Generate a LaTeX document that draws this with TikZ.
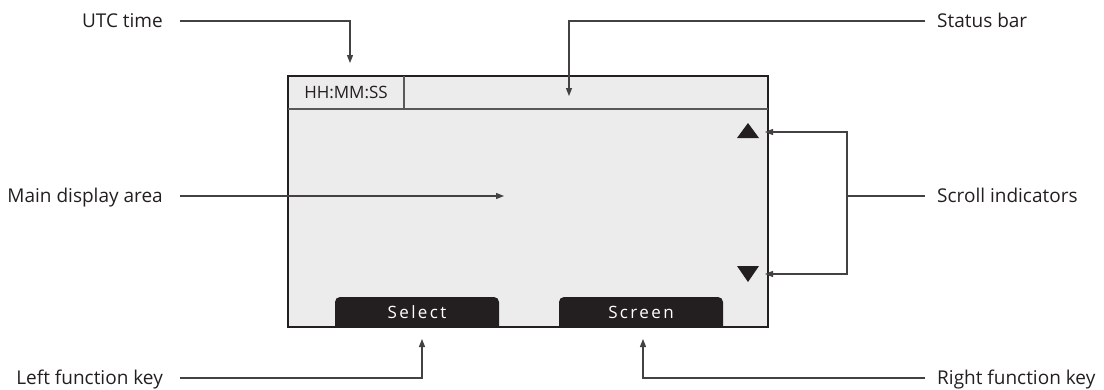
\documentclass[tikz,border=0pt]{standalone}
\usepackage{fontspec}
\setmainfont{Open Sans}
\usetikzlibrary{arrows.meta}

\definecolor{ink}{HTML}{231F20}
\definecolor{lcd}{HTML}{ECECEC}

\tikzset{
  callout/.style={font=\fontsize{19}{22}\selectfont, text=ink, inner sep=0pt,
    text height=13.5pt, text depth=0pt},
  lead/.style={draw=ink!85, line width=1.2pt, -{Triangle[length=8pt,width=6pt]}},
  keytext/.style={font=\fontsize{17}{20}\selectfont\addfontfeature{LetterSpace=14},
    text=white, inner sep=0pt},
}

\begin{document}
\begin{tikzpicture}[x=1pt,y=-1pt]
    \useasboundingbox (0,0) rectangle (1104,389);

    % the display
    \draw[ink, line width=2pt, fill=lcd] (288,76) rectangle (768,327);
    \draw[ink!75, line width=1.5pt] (288,109) -- (768,109);
    \draw[ink!75, line width=1.5pt] (404,76) -- (404,109);
    \node[callout, font=\fontsize{17}{20}\selectfont, text height=12pt] (clock) at (346,92.5) {HH:MM:SS};

    % soft keys
    \begin{scope}
        \clip (288,76) rectangle (768,326);
        \fill[ink, rounded corners=5pt] (335,297) rectangle (499,340);
        \fill[ink, rounded corners=5pt] (559,297) rectangle (723,340);
    \end{scope}
    \node[keytext] (select) at (417,312) {Select};
    \node[keytext] (screen) at (641,312) {Screen};

    % scroll marks
    \fill[ink] (737,138) -- (759,138) -- (748,123) -- cycle;
    \fill[ink] (737,266) -- (759,266) -- (748,282) -- cycle;

    % arrow targets
    \coordinate (utcpt) at (350,63);
    \coordinate (barpt) at (569,96);
    \coordinate (mainpt) at (504,196);
    \coordinate (uppt) at (765,132);
    \coordinate (downpt) at (765,274);
    \coordinate (fork) at (847,196);
    \coordinate (leftpt) at (422,339);
    \coordinate (rightpt) at (643,339);

    % labels
    \node[callout, anchor=east] (utc) at (163,21) {UTC time};
    \node[callout, anchor=west] (bar) at (937,21) {Status bar};
    \node[callout, anchor=east] (main) at (163,196) {Main display area};
    \node[callout, anchor=west] (scroll) at (937,196) {Scroll indicators};
    \node[callout, anchor=east] (lkey) at (163,378) {Left function key};
    \node[callout, anchor=west] (rkey) at (937,378) {Right function key};

    \draw[lead] ([xshift=17pt]utc.east) -| (utcpt);
    \draw[lead] ([xshift=-12pt]bar.west) -| (barpt);
    \draw[lead] ([xshift=17pt]main.east) -- (mainpt);
    \draw[draw=ink!85, line width=1.2pt] ([xshift=-12pt]scroll.west) -- (fork);
    \draw[lead] (fork) |- (uppt);
    \draw[lead] (fork) |- (downpt);
    \draw[lead] ([xshift=17pt]lkey.east) -| (leftpt);
    \draw[lead] ([xshift=-12pt]rkey.west) -| (rightpt);

\end{tikzpicture}
\end{document}
